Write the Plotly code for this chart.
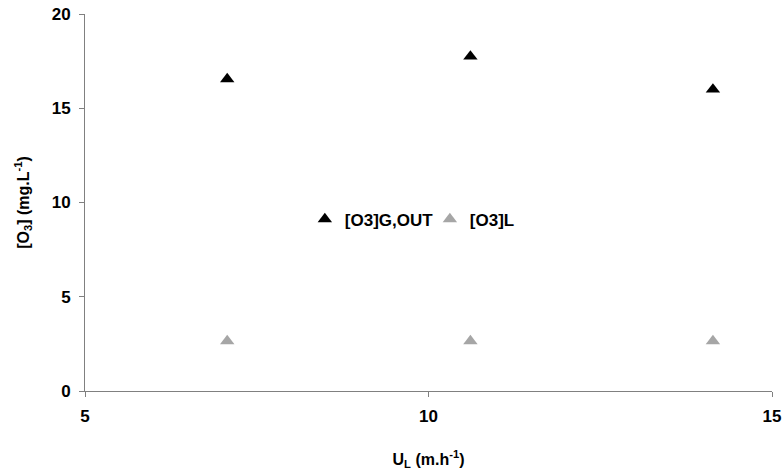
import plotly.graph_objects as go

u_l = [7.07, 10.61, 14.14]
o3_g_out = [16.55, 17.75, 16.0]
o3_l = [2.65, 2.65, 2.65]
series_names = ["[O3]G,OUT", "[O3]L"]

FAM = "Liberation Sans, Arial"
bold = dict(family=FAM, size=17, color="#000000", weight="bold")
title_font = dict(family=FAM, size=16, color="#000000", weight="bold")

fig = go.Figure()
fig.add_trace(go.Scatter(x=u_l, y=o3_g_out, mode="markers", name=series_names[0],
                         legend="legend",
                         marker=dict(symbol="triangle-up", size=12.5, color="#000000")))
fig.add_trace(go.Scatter(x=u_l, y=o3_l, mode="markers", name=series_names[1],
                         legend="legend2",
                         marker=dict(symbol="triangle-up", size=12.5, color="#a6a6a6")))

legend_common = dict(orientation="h", y=0.455, xanchor="left", yanchor="middle",
                     font=bold, bgcolor="rgba(0,0,0,0)", itemwidth=30)
fig.update_layout(
    width=783, height=470,
    margin=dict(l=85, r=11, t=14, b=79),
    paper_bgcolor="white", plot_bgcolor="white",
    font=bold,
    showlegend=True,
    legend=dict(x=0.320, **legend_common),
    legend2=dict(x=0.502, **legend_common),
)
fig.update_xaxes(range=[5, 15], tickvals=[5, 10, 15], showgrid=False, zeroline=False,
                 showline=True, linecolor="#808080", linewidth=1, automargin=False,
                 ticks="outside", ticklen=5, tickcolor="#808080", ticklabelstandoff=5,
                 tickfont=bold,
                 title=dict(text="U<sub>L</sub> (m.h<sup>-1</sup>)", standoff=28, font=title_font))
fig.update_yaxes(range=[0, 20], tickvals=[0, 5, 10, 15, 20], showgrid=False, zeroline=False,
                 showline=True, linecolor="#808080", linewidth=1, automargin=False,
                 ticks="outside", ticklen=5, tickcolor="#808080", ticklabelstandoff=5,
                 tickfont=bold,
                 title=dict(text="[O<sub>3</sub>] (mg.L<sup>-1</sup>)", standoff=18, font=title_font))

fig.write_html("out.html", config={"displayModeBar": False},
               post_script="document.body.style.margin='0';")
